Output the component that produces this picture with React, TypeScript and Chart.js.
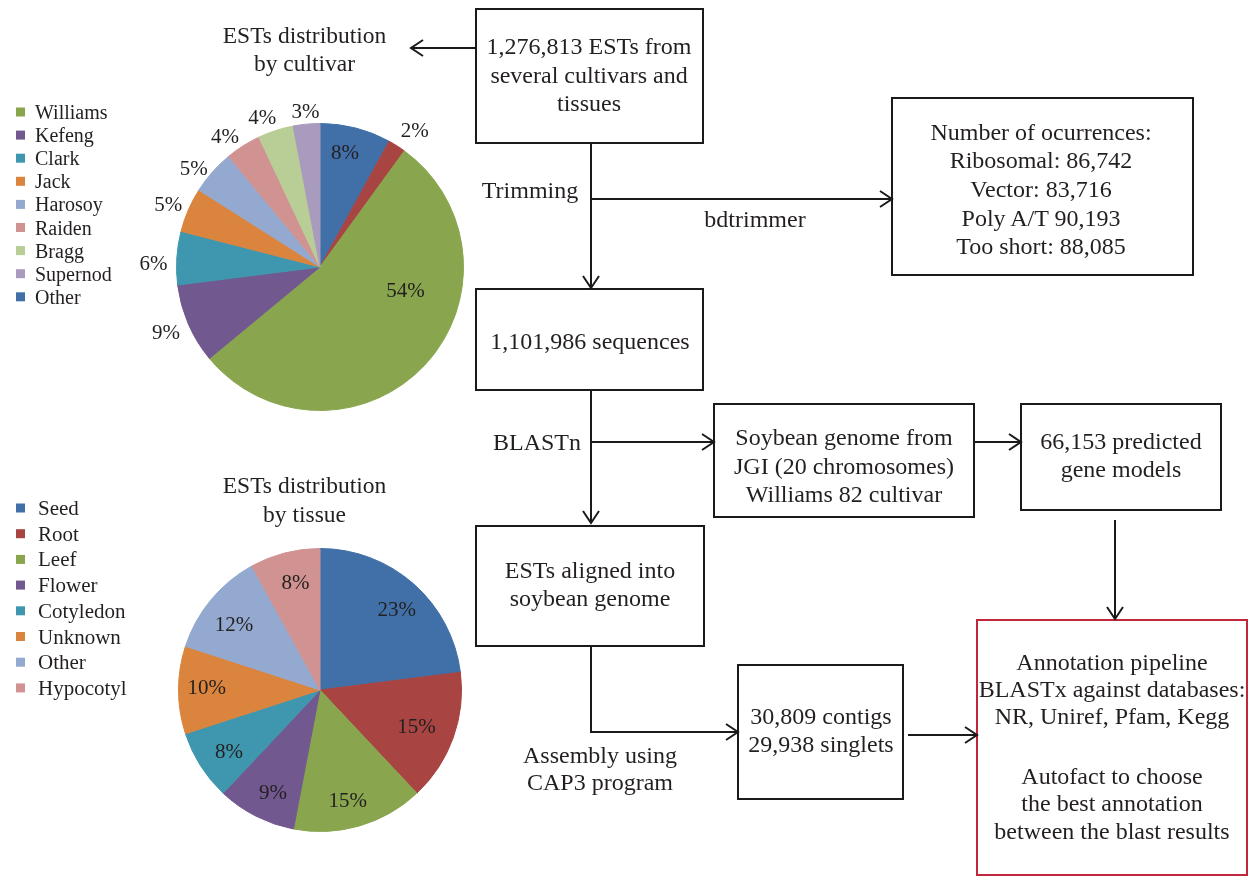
import React, { useEffect, useRef } from 'react';
import { Chart, registerables } from 'chart.js';

Chart.register(...registerables);

// ---------- DATA ----------
const cultivarLabels = ['Other', 'Unlisted', 'Williams', 'Kefeng', 'Clark', 'Jack', 'Harosoy', 'Raiden', 'Bragg', 'Supernod'];
const cultivarValues = [8, 2, 54, 9, 6, 5, 5, 4, 4, 3];
const cultivarLegend = ['Williams', 'Kefeng', 'Clark', 'Jack', 'Harosoy', 'Raiden', 'Bragg', 'Supernod', 'Other'];

const tissueLabels = ['Seed', 'Root', 'Leef', 'Flower', 'Cotyledon', 'Unknown', 'Other', 'Hypocotyl'];
const tissueValues = [23, 15, 15, 9, 8, 10, 12, 8];
const tissueLegend = ['Seed', 'Root', 'Leef', 'Flower', 'Cotyledon', 'Unknown', 'Other', 'Hypocotyl'];

// ---------- STYLE ----------
const palette = ['#4170A9', '#A84442', '#89A54E', '#71588F', '#3F97AF', '#DB843D', '#93A9CF', '#D19392', '#B9CD96', '#A99BBD'];
const cultivarColors = palette.slice(0, cultivarLabels.length);
const tissueColors = palette.slice(0, tissueLabels.length);

// label placement (radius factor of outer radius, angle offset in degrees from slice middle)
const cultivarLabelRadius = [0.81, 1.15, 0.62, 1.17, 1.16, 1.14, 1.11, 1.12, 1.11, 1.08];
const cultivarLabelAngle = [-2, 2.6, -27, 0, -2.6, -1.4, -3.8, -3.8, -3.3, 0];
const tissueLabelRadius = [0.78, 0.73, 0.81, 0.8, 0.78, 0.8, 0.76, 0.77];
const tissueLabelAngle = [2.6, 1.2, 2.2, -2.5, -2, 1, -2.6, 1.4];

const SERIF = '"Liberation Serif", "Times New Roman", "DejaVu Serif", serif';
const TEXT = '#231f20';
const LINE = '#1a1a1a';

type PieProps = {
  left: number; top: number; width: number; height: number;
  padding: { left: number; right: number; top: number; bottom: number };
  labels: string[]; values: number[]; colors: string[];
  radii: number[]; angles: number[]; fontSize: number;
};

function PieChart(props: PieProps) {
  const ref = useRef<HTMLCanvasElement>(null);
  useEffect(() => {
    const { labels, values, colors, radii, angles, fontSize, padding } = props;
    const labelPlugin = {
      id: 'pctLabels',
      afterDatasetsDraw(chart: any) {
        const ctx = chart.ctx;
        const meta = chart.getDatasetMeta(0);
        ctx.save();
        ctx.font = `${fontSize}px ${SERIF}`;
        ctx.fillStyle = TEXT;
        ctx.textAlign = 'center';
        ctx.textBaseline = 'middle';
        meta.data.forEach((arc: any, i: number) => {
          const p = arc.getProps(['x', 'y', 'startAngle', 'endAngle', 'outerRadius'], true);
          const a = (p.startAngle + p.endAngle) / 2 + (angles[i] * Math.PI) / 180;
          const r = p.outerRadius * radii[i];
          ctx.fillText(values[i] + '%', p.x + Math.cos(a) * r, p.y + Math.sin(a) * r);
        });
        ctx.restore();
      },
    };
    const chart = new Chart(ref.current as HTMLCanvasElement, {
      type: 'pie',
      data: {
        labels,
        datasets: [{ data: values, backgroundColor: colors, borderColor: colors, borderWidth: 1, hoverOffset: 0, offset: 0 }],
      },
      options: {
        responsive: false,
        animation: false,
        events: [],
        layout: { padding },
        plugins: { legend: { display: false }, tooltip: { enabled: false } },
      },
      plugins: [labelPlugin],
    } as any);
    return () => chart.destroy();
  }, []);
  return (
    <canvas
      ref={ref}
      width={props.width}
      height={props.height}
      style={{ position: 'absolute', left: props.left, top: props.top, width: props.width, height: props.height }}
    />
  );
}

type Dir = 'left' | 'right' | 'down';
function head(x: number, y: number, dir: Dir) {
  const L = 12, W = 8;
  let pts = '';
  if (dir === 'down') pts = `${x - W},${y - L} ${x},${y} ${x + W},${y - L}`;
  if (dir === 'right') pts = `${x - L},${y - W} ${x},${y} ${x - L},${y + W}`;
  if (dir === 'left') pts = `${x + L},${y - W} ${x},${y} ${x + L},${y + W}`;
  return <polyline points={pts} fill="none" stroke={LINE} strokeWidth={2} />;
}

function Lines(x: number, ys: number[], lines: string[], size = 24) {
  return lines.map((t, i) => (
    <text key={i} x={x} y={ys[i]} textAnchor="middle" dominantBaseline="central"
      fontFamily={SERIF} fontSize={size} fill={TEXT}>{t}</text>
  ));
}

function Box(x1: number, y1: number, x2: number, y2: number, color = LINE) {
  return <rect x={x1} y={y1} width={x2 - x1} height={y2 - y1} fill="none" stroke={color} strokeWidth={2} />;
}

function Legend(items: string[], names: string[], colors: string[], y0: number, step: number, sqX: number, txtX: number, size: number) {
  return items.map((name, i) => {
    const cy = y0 + step * i;
    const c = colors[names.indexOf(name)];
    return (
      <g key={name}>
        <rect x={sqX} y={cy - 4.5} width={9} height={9} fill={c} />
        <text x={txtX} y={cy} dominantBaseline="central" fontFamily={SERIF} fontSize={size} fill={TEXT}>{name}</text>
      </g>
    );
  });
}

export default function App() {
  return (
    <div style={{ position: 'absolute', left: 0, top: 0, width: 1249, height: 876, background: '#fff', overflow: 'hidden' }}>
      <PieChart left={110} top={80} width={420} height={380}
        padding={{ left: 66, right: 66, top: 43, bottom: 49 }}
        labels={cultivarLabels} values={cultivarValues} colors={cultivarColors}
        radii={cultivarLabelRadius} angles={cultivarLabelAngle} fontSize={21} />
      <PieChart left={110} top={510} width={420} height={360}
        padding={{ left: 68, right: 68, top: 38, bottom: 38 }}
        labels={tissueLabels} values={tissueValues} colors={tissueColors}
        radii={tissueLabelRadius} angles={tissueLabelAngle} fontSize={21} />
      <svg width={1249} height={876} style={{ position: 'absolute', left: 0, top: 0, pointerEvents: 'none' }}>
        {/* titles */}
        {Lines(304.5, [35, 63], ['ESTs distribution', 'by cultivar'], 23.5)}
        {Lines(304.5, [485, 514], ['ESTs distribution', 'by tissue'], 23.5)}
        {/* legends */}
        {Legend(cultivarLegend, cultivarLabels, cultivarColors, 112, 23.1, 16, 35, 20)}
        {Legend(tissueLegend, tissueLabels, tissueColors, 508, 25.7, 16, 38, 21)}

        {/* boxes */}
        {Box(476, 9, 703, 143)}
        {Box(892, 98, 1193, 275)}
        {Box(476, 289, 703, 390)}
        {Box(714, 404, 974, 517)}
        {Box(1021, 404, 1221, 510)}
        {Box(476, 526, 704, 646)}
        {Box(738, 665, 903, 799)}
        {Box(977, 620, 1247, 875, '#c0273a')}

        {/* connectors */}
        <line x1={476} y1={48} x2={411} y2={48} stroke={LINE} strokeWidth={2} />
        {head(411, 48, 'left')}
        <line x1={591} y1={143} x2={591} y2={288} stroke={LINE} strokeWidth={2} />
        {head(591, 288, 'down')}
        <line x1={591} y1={199} x2={892} y2={199} stroke={LINE} strokeWidth={2} />
        {head(892, 199, 'right')}
        <line x1={591} y1={390} x2={591} y2={523} stroke={LINE} strokeWidth={2} />
        {head(591, 523, 'down')}
        <line x1={591} y1={442} x2={714} y2={442} stroke={LINE} strokeWidth={2} />
        {head(714, 442, 'right')}
        <line x1={974} y1={442} x2={1021} y2={442} stroke={LINE} strokeWidth={2} />
        {head(1021, 442, 'right')}
        <line x1={1115} y1={520} x2={1115} y2={619} stroke={LINE} strokeWidth={2} />
        {head(1115, 619, 'down')}
        <polyline points="591,646 591,732 738,732" fill="none" stroke={LINE} strokeWidth={2} />
        {head(738, 732, 'right')}
        <line x1={908} y1={735} x2={977} y2={735} stroke={LINE} strokeWidth={2} />
        {head(977, 735, 'right')}

        {/* box texts */}
        {Lines(589, [46, 75, 103], ['1,276,813 ESTs from', 'several cultivars and', 'tissues'])}
        {Lines(1041, [132, 160, 189, 218, 246], ['Number of ocurrences:', 'Ribosomal: 86,742', 'Vector: 83,716', 'Poly A/T 90,193', 'Too short: 88,085'])}
        {Lines(590, [341], ['1,101,986 sequences'])}
        {Lines(844, [437, 466, 494], ['Soybean genome from', 'JGI (20 chromosomes)', 'Williams 82 cultivar'])}
        {Lines(1121, [441, 469], ['66,153 predicted', 'gene models'])}
        {Lines(590, [570, 598], ['ESTs aligned into', 'soybean genome'])}
        {Lines(821, [716, 744], ['30,809 contigs', '29,938 singlets'])}
        {Lines(1112, [662, 689, 716, 776, 803, 831], ['Annotation pipeline', 'BLASTx against databases:', 'NR, Uniref, Pfam, Kegg', 'Autofact to choose', 'the best annotation', 'between the blast results'])}

        {/* edge labels */}
        {Lines(530, [190], ['Trimming'])}
        {Lines(755, [219], ['bdtrimmer'])}
        {Lines(537, [442], ['BLASTn'])}
        {Lines(600, [755, 782], ['Assembly using', 'CAP3 program'])}
      </svg>
    </div>
  );
}
